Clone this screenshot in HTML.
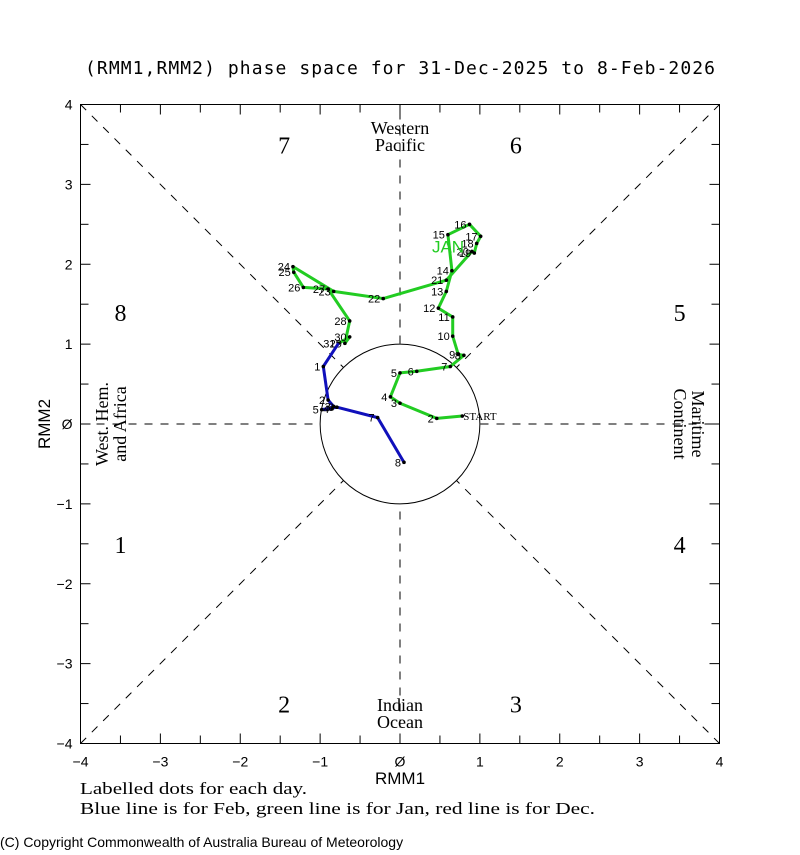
<!DOCTYPE html>
<html><head><meta charset="utf-8"><style>
body{margin:0;background:#fff;}
svg text{font-family:"DejaVu Sans Mono","Liberation Mono",monospace;}
</style></head><body>
<svg id="c" width="800" height="850" xmlns="http://www.w3.org/2000/svg">
<rect width="800" height="850" fill="#fff"/>
<text x="85" y="74" font-size="18" textLength="630" lengthAdjust="spacing">(RMM1,RMM2) phase space for 31-Dec-2025 to  8-Feb-2026</text>
<g id="axes"></g>
<g id="marks"></g>
<g font-size="18" fill="#000">
<text x="400" y="134" text-anchor="middle" style="font-family:'Liberation Serif',serif">Western</text>
<text x="400" y="151" text-anchor="middle" style="font-family:'Liberation Serif',serif">Pacific</text>
<text x="400" y="711" text-anchor="middle" style="font-family:'Liberation Serif',serif">Indian</text>
<text x="400" y="728" text-anchor="middle" style="font-family:'Liberation Serif',serif">Ocean</text>
<text transform="translate(108,424) rotate(-90)" text-anchor="middle" style="font-family:'Liberation Serif',serif">West. Hem.</text>
<text transform="translate(126,424) rotate(-90)" text-anchor="middle" style="font-family:'Liberation Serif',serif">and Africa</text>
<text transform="translate(692,424) rotate(90)" text-anchor="middle" style="font-family:'Liberation Serif',serif">Maritime</text>
<text transform="translate(674,424) rotate(90)" text-anchor="middle" style="font-family:'Liberation Serif',serif">Continent</text>
</g>
<text x="80" y="794" font-size="16.5" textLength="227" lengthAdjust="spacingAndGlyphs" style="font-family:'Liberation Serif',serif">Labelled dots for each day.</text>
<text x="80" y="814" font-size="16.5" textLength="515" lengthAdjust="spacingAndGlyphs" style="font-family:'Liberation Serif',serif">Blue line is for Feb, green line is for Jan, red line is for Dec.</text>
<text x="0" y="847" font-size="14" style="font-family:'Liberation Sans',sans-serif">(C) Copyright Commonwealth of Australia Bureau of Meteorology</text>
<text x="400" y="784" font-size="17" text-anchor="middle" style="font-family:'Liberation Sans',sans-serif">RMM1</text>
<text transform="translate(50,424) rotate(-90)" font-size="17" text-anchor="middle" style="font-family:'Liberation Sans',sans-serif">RMM2</text>
</svg>
<script>
const janDays=['START','2','3','4','5','6','7','8','9','10','11','12','13','14','15','16','17','18','19','20','21','22','23','24','25','26','27','28','29','30','31'];
const janX=[0.78,0.46,0.0,-0.12,0.0,0.21,0.63,0.80,0.73,0.66,0.66,0.48,0.58,0.65,0.60,0.87,1.01,0.96,0.93,0.90,0.58,-0.21,-0.83,-1.34,-1.33,-1.21,-0.90,-0.63,-0.69,-0.63,-0.77];
const janY=[0.10,0.07,0.26,0.34,0.64,0.66,0.72,0.86,0.87,1.10,1.34,1.45,1.66,1.92,2.37,2.50,2.35,2.26,2.14,2.16,1.80,1.57,1.66,1.97,1.90,1.71,1.69,1.29,1.01,1.09,1.01];
const febDays=['1','2','3','4','5','6','7','8'];
const febX=[-0.96,-0.90,-0.83,-0.85,-0.98,-0.79,-0.28,0.05];
const febY=[0.72,0.30,0.22,0.19,0.18,0.21,0.08,-0.48];
const ticks=[-4,-3,-2,-1,0,1,2,3,4];
const phaseNums=['1','2','3','4','5','6','7','8'];
const phaseX=[-3.5,-1.45,1.45,3.5,3.5,1.45,-1.45,-3.5];
const phaseY=[-1.5,-3.5,-3.5,-1.5,1.4,3.5,3.5,1.4];
const NS='http://www.w3.org/2000/svg';
const X=v=>400+v*79.875, Y=v=>424-v*79.875;
function mk(t,a,p){const e=document.createElementNS(NS,t);for(const k in a)e.setAttribute(k,a[k]);p.appendChild(e);return e;}
const ax=document.getElementById('axes'), mg=document.getElementById('marks');
let r=mk('rect',{x:X(-4),y:Y(4),width:X(4)-X(-4),height:Y(-4)-Y(4),fill:'none',stroke:'#000','stroke-width':1},ax);


[[-4,-4,4,4],[-4,4,4,-4],[0,-4,0,4],[-4,0,4,0]].forEach(d=>{
 const l=mk('line',{x1:X(d[0]),y1:Y(d[1]),x2:X(d[2]),y2:Y(d[3]),stroke:'#000','stroke-dasharray':'8,8'},ax);
 
 
});
const ci=mk('circle',{cx:X(0),cy:Y(0),r:79.875,fill:'#fff',stroke:'#000'},ax);


for(let v=-4;v<=4;v+=0.5){
 const L=Number.isInteger(v)?10:8;
 [[X(v),Y(-4),X(v),Y(-4)-L],[X(v),Y(4),X(v),Y(4)+L],[X(-4),Y(v),X(-4)+L,Y(v)],[X(4),Y(v),X(4)-L,Y(v)]].forEach(d=>{
  const t=mk('line',{x1:d[0],y1:d[1],x2:d[2],y2:d[3],stroke:'#000'},ax);
  
  
 });
}
ticks.forEach(v=>{
 const a=mk('text',{x:X(v),y:Y(-4)+23,'font-size':14,'text-anchor':'middle',style:"font-family:'Liberation Sans',sans-serif"},ax);a.textContent=v<0?'\u2212'+(-v):(v===0?'\u00d8':v);
 
 
 const b=mk('text',{x:X(-4)-8,y:Y(v)+5,'font-size':14,'text-anchor':'end',style:"font-family:'Liberation Sans',sans-serif"},ax);b.textContent=v<0?'\u2212'+(-v):(v===0?'\u00d8':v);
 
 
});
phaseNums.forEach((n,i)=>{
 const t=mk('text',{x:X(phaseX[i]),y:Y(phaseY[i])+9,'font-size':24,'text-anchor':'middle',style:"font-family:'Liberation Serif',serif"},ax);t.textContent=n;
 
 
});
function track(xs,ys,days,col,name,start){
 let pts=xs.map((x,i)=>X(x)+','+Y(ys[i]));
 if(start)pts.unshift(X(start[0])+','+Y(start[1]));
 const p=mk('polyline',{points:pts.join(' '),fill:'none',stroke:col,'stroke-width':3,'stroke-linejoin':'round'},mg);
 
 
 xs.forEach((x,i)=>{
  const d=mk('circle',{cx:X(x),cy:Y(ys[i]),r:1.8,fill:'#000'},mg);
  
  
  const t=mk('text',{x:X(x)-(days[i]==='START'?-1:3),y:Y(ys[i])+4,'font-size':11,'text-anchor':days[i]==='START'?'start':'end',style:days[i]==='START'?"font-family:'Liberation Serif',serif":"font-family:'Liberation Sans',sans-serif"},mg);t.textContent=days[i];
  
  
 });
}
track(janX,janY,janDays,'#22cc22','jan-track');
track(febX,febY,febDays,'#1010bb','feb-track',[janX[janX.length-1],janY[janY.length-1]]);
const jl=mk('text',{x:X(0.40),y:Y(2.15),'font-size':17,fill:'#22cc22',style:"font-family:'Liberation Sans',sans-serif"},mg);jl.textContent='JAN';


</script>
</body></html>
